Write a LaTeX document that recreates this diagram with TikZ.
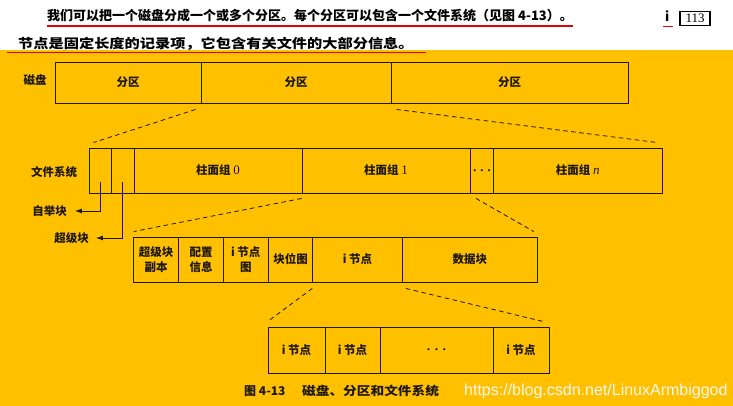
\documentclass[tikz,border=0pt]{standalone}
\usepackage{fontspec}
\setmainfont{Liberation Serif}
\newfontfamily\cjk{Noto Sans CJK SC}
\newfontfamily\wmfont{Liberation Sans}
\usetikzlibrary{arrows.meta}
\definecolor{bgorange}{RGB}{255,192,0}
\definecolor{linec}{RGB}{30,24,10}
\definecolor{ulred}{RGB}{226,0,0}
\newcommand{\numtxt}[1]{{\normalfont\mdseries\fontsize{13}{13}\selectfont #1}}
\begin{document}
\begin{tikzpicture}[x=1pt,y=-1pt,
  cell/.style={draw=linec, line width=0.9pt, inner sep=0pt, align=center,
    font=\cjk\bfseries\fontsize{11.5}{15}\selectfont, text=linec},
  lbl/.style={inner sep=0pt, font=\cjk\bfseries\fontsize{11.5}{13}\selectfont, text=linec},
  dline/.style={draw=linec, line width=0.8pt, dash pattern=on 4.5pt off 3.5pt},
  arr/.style={draw=linec, line width=0.8pt, -{Latex[length=7pt,width=5pt]}},
  topt/.style={inner sep=0pt, anchor=west, font=\cjk\bfseries\fontsize{13}{15}\selectfont},
  ul/.style={draw=ulred, line width=1.4pt},
  dots/.style={font=\fontsize{12}{12}\selectfont\bfseries}
]
\useasboundingbox (0,0) rectangle (733,406);
\fill[white] (0,0) rectangle (733,50);
\fill[bgorange] (0,50) rectangle (733,406);

% top text
\node[topt] (t1) at (47,16) {我们可以把一个磁盘分成一个或多个分区。每个分区可以包含一个文件系统（见图 4-13）。};
\node[topt] (ti) at (665,16) {i};
\node[draw=black, line width=1.2pt, inner sep=0pt, minimum width=30pt, minimum height=14pt,
  font=\fontsize{13}{13}\selectfont] (pg) at (695,18.5) {113};
\node[topt] (t2) at (18,44) {\scalebox{1.17}[1]{节点是固定长度的记录项，它包含有关文件的大部分信息。}};
\draw[ul] ([shift={(0,3.5)}]t1.south west) -- ([shift={(0,3.5)}]t1.south east);
\draw[ul] ([shift={(-2,5)}]ti.south west) -- ([shift={(3,5)}]ti.south east);
\draw[ul] ([shift={(-11,1.5)}]t2.south west) -- ([shift={(12,1.5)}]t2.south east);

% disk row
\node[lbl] (ldisk) at (35,80) {磁盘};
\node[cell, minimum width=146pt, minimum height=41pt] (d1) at (128,82.5) {分区};
\node[cell, minimum width=190pt, minimum height=41pt] (d2) at (296,82.5) {分区};
\node[cell, minimum width=237pt, minimum height=41pt] (d3) at (509.5,82.5) {分区};

% file system row
\node[lbl] (lfs) at (54,172) {文件系统};
\node[cell, minimum width=22pt, minimum height=45pt] (f1) at (100,170.5) {};
\node[cell, minimum width=23pt, minimum height=45pt] (f2) at (122.5,170.5) {};
\node[cell, minimum width=168pt, minimum height=45pt] (f3) at (218,170.5) {柱面组 \numtxt{0}};
\node[cell, minimum width=168pt, minimum height=45pt] (f4) at (386,170.5) {柱面组 \numtxt{1}};
\node[cell, minimum width=23pt, minimum height=45pt] (f5) at (482,170.5) {};
\node[dots] (f5d) at (f5.center) {.\hspace{4.2pt}.\hspace{4.2pt}.};
\node[cell, minimum width=168.5pt, minimum height=45pt] (f6) at (577.75,170.5) {柱面组 \numtxt{\itshape n}};

\node[lbl] (boot) at (49.5,211) {自举块};
\node[lbl] (super) at (71.5,238) {超级块};
\draw[arr] ([shift={(0,-11)}]f1.south) |- ([shift={(8,0)}]boot.east);
\draw[arr] ([shift={(0,-11)}]f2.south) |- ([shift={(7,0)}]super.east);

% cylinder group row
\node[cell, minimum width=45.4pt, minimum height=45pt] (c1) at (156,259.5) {超级块\\副本};
\node[cell, minimum width=44.6pt, minimum height=45pt] (c2) at (201,259.5) {配置\\信息};
\node[cell, minimum width=45pt, minimum height=45pt] (c3) at (245.8,259.5) {i 节点\\图};
\node[cell, minimum width=44.4pt, minimum height=45pt] (c4) at (290.5,259.5) {块位图};
\node[cell, minimum width=89.6pt, minimum height=45pt] (c5) at (357.5,259.5) {i 节点};
\node[cell, minimum width=135pt, minimum height=45pt] (c6) at (469.8,259.5) {数据块};

% inode row
\node[cell, minimum width=57pt, minimum height=46pt] (n1) at (296.5,350) {i 节点};
\node[cell, minimum width=55pt, minimum height=46pt] (n2) at (352.5,350) {i 节点};
\node[cell, minimum width=113pt, minimum height=46pt] (n3) at (436.5,350) {};
\node[dots] (n3d) at (n3.center) {.\hspace{4.8pt}.\hspace{4.8pt}.};
\node[cell, minimum width=56pt, minimum height=46pt] (n4) at (521,350) {i 节点};

% dashed zoom lines
\draw[dline] ([shift={(-5,6)}]d2.south west) -- ([shift={(5,-5)}]f1.north west);
\draw[dline] ([shift={(6,6)}]d3.south west) -- ([shift={(-5,-5)}]f6.north east);
\draw[dline] ([shift={(0,5)}]f4.south west) -- ([shift={(1,-5)}]c1.north west);
\draw[dline] ([shift={(6,5)}]f5.south west) -- ([shift={(-4,-5)}]c6.north east);
\draw[dline] ([shift={(0,6)}]c5.south west) -- ([shift={(0,-5)}]n1.north west);
\draw[dline] ([shift={(4,6)}]c6.south west) -- ([shift={(-6,-5)}]n4.north east);

% caption
\node[lbl, anchor=west, font=\cjk\bfseries\fontsize{12}{14}\selectfont] (cap1) at (244,391) {图 4-13};
\node[lbl, anchor=west, font=\cjk\bfseries\fontsize{12}{14}\selectfont] (cap2) at (302,391) {\scalebox{1.14}[1]{磁盘、分区和文件系统}};
\node[anchor=west, inner sep=0pt, font=\wmfont\fontsize{16}{18}\selectfont, text=white!94!gray] (wm) at (464,391) {https://blog.csdn.net/LinuxArmbiggod};
\end{tikzpicture}
\end{document}
